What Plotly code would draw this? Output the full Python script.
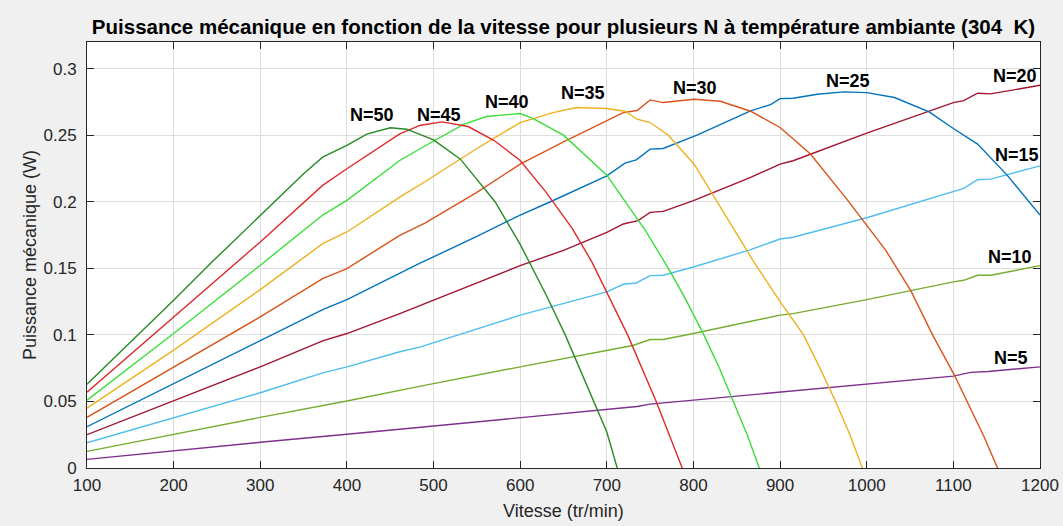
import plotly.graph_objects as go

# ---- Data (speed in tr/min, mechanical power in W) ----
v_N50 = [100, 200, 246, 300, 350, 372, 400, 423, 450, 469, 485, 500, 531, 571, 600, 614, 630, 652, 668, 685, 700, 712]
p_N50 = [0.063, 0.126, 0.1558, 0.19, 0.221, 0.2335, 0.2423, 0.2508, 0.2556, 0.2545, 0.2505, 0.2465, 0.232, 0.2, 0.168, 0.15, 0.13, 0.1, 0.076, 0.05, 0.027, 0.0]

v_N45 = [100, 200, 300, 372, 400, 461, 485, 510, 540, 570, 600, 630, 660, 683, 700, 724, 757, 787]
p_N45 = [0.057, 0.1135, 0.1698, 0.2123, 0.2248, 0.251, 0.2575, 0.26, 0.2565, 0.246, 0.231, 0.207, 0.18, 0.1545, 0.132, 0.1, 0.05, 0.0]

v_N40 = [100, 200, 300, 372, 400, 461, 485, 534, 561, 600, 615, 650, 700, 721, 745, 771, 790, 812, 830, 846, 862, 876]
p_N40 = [0.051, 0.101, 0.1523, 0.19, 0.201, 0.231, 0.24, 0.258, 0.264, 0.2663, 0.2625, 0.25, 0.22, 0.2, 0.178, 0.15, 0.128, 0.1, 0.075, 0.05, 0.025, 0.0]

v_N35 = [100, 200, 300, 372, 400, 461, 490, 550, 600, 638, 665, 700, 721, 735, 750, 771, 801, 827, 850, 870, 900, 927, 946, 964, 980, 995]
p_N35 = [0.045, 0.0885, 0.134, 0.1685, 0.1773, 0.2035, 0.215, 0.24, 0.2595, 0.267, 0.2708, 0.27, 0.268, 0.262, 0.2595, 0.25, 0.228, 0.2, 0.176, 0.1545, 0.125, 0.1, 0.075, 0.05, 0.026, 0.0]

v_N30 = [100, 200, 300, 372, 400, 461, 490, 550, 600, 650, 700, 719, 735, 750, 765, 801, 831, 866, 900, 935, 977, 1000, 1022, 1051, 1076, 1101, 1116, 1135, 1151]
p_N30 = [0.038, 0.076, 0.1135, 0.1423, 0.1498, 0.1748, 0.184, 0.207, 0.2283, 0.245, 0.2608, 0.267, 0.2685, 0.2765, 0.2745, 0.277, 0.2755, 0.268, 0.2558, 0.2358, 0.202, 0.182, 0.1635, 0.133, 0.1, 0.07, 0.05, 0.024, 0.0]

v_N25 = [100, 200, 300, 372, 400, 461, 485, 550, 600, 635, 700, 721, 734, 750, 765, 804, 866, 889, 900, 915, 943, 974, 1000, 1032, 1072, 1100, 1112, 1128, 1162, 1187, 1200]
p_N25 = [0.031, 0.0635, 0.0955, 0.119, 0.1265, 0.146, 0.154, 0.174, 0.19, 0.2, 0.2195, 0.229, 0.2315, 0.2395, 0.24, 0.25, 0.2683, 0.273, 0.2775, 0.2778, 0.2808, 0.2825, 0.282, 0.2783, 0.2675, 0.255, 0.25, 0.2433, 0.22, 0.2, 0.19]

v_N20 = [100, 200, 300, 372, 400, 461, 485, 600, 650, 700, 719, 736, 750, 765, 800, 866, 900, 915, 1000, 1100, 1112, 1128, 1143, 1200]
p_N20 = [0.025, 0.0503, 0.076, 0.0955, 0.101, 0.116, 0.1223, 0.152, 0.1635, 0.177, 0.1833, 0.1858, 0.192, 0.1928, 0.2008, 0.2183, 0.2283, 0.2308, 0.2515, 0.2745, 0.276, 0.2815, 0.281, 0.2875]

v_N15 = [100, 200, 300, 372, 400, 461, 485, 600, 700, 719, 734, 750, 765, 800, 866, 900, 915, 1000, 1100, 1112, 1128, 1143, 1200]
p_N15 = [0.019, 0.038, 0.0565, 0.0715, 0.076, 0.0873, 0.091, 0.1148, 0.1323, 0.138, 0.139, 0.1445, 0.1448, 0.151, 0.164, 0.172, 0.1733, 0.188, 0.208, 0.21, 0.2165, 0.217, 0.227]

v_N10 = [100, 200, 300, 400, 461, 485, 600, 700, 730, 750, 765, 800, 866, 900, 915, 1000, 1100, 1112, 1128, 1143, 1200]
p_N10 = [0.0125, 0.0253, 0.038, 0.0503, 0.0585, 0.0615, 0.076, 0.0885, 0.092, 0.0965, 0.0965, 0.101, 0.1098, 0.1148, 0.116, 0.1265, 0.1398, 0.141, 0.1448, 0.1448, 0.152]

v_N5 = [100, 200, 300, 400, 461, 500, 600, 700, 735, 750, 800, 900, 1000, 1100, 1120, 1140, 1200]
p_N5 = [0.0065, 0.013, 0.0193, 0.0253, 0.029, 0.0315, 0.038, 0.044, 0.0462, 0.048, 0.051, 0.0575, 0.0635, 0.069, 0.0718, 0.0725, 0.076]

series_names = ["N=5", "N=10", "N=15", "N=20", "N=25", "N=30", "N=35", "N=40", "N=45", "N=50"]
series_v = [v_N5, v_N10, v_N15, v_N20, v_N25, v_N30, v_N35, v_N40, v_N45, v_N50]
series_p = [p_N5, p_N10, p_N15, p_N20, p_N25, p_N30, p_N35, p_N40, p_N45, p_N50]
series_colors = ["#7E2F8E", "#77AC30", "#4DBEEE", "#A2142F", "#0072BD",
                 "#D95319", "#EDB120", "#3BDD3B", "#DD2A2A", "#268A26"]

# label positions (data coordinates)
label_v = [1167, 1165, 1173, 1171, 978, 802, 672, 585, 506, 429]
label_p = [0.0829, 0.1585, 0.2354, 0.2948, 0.291, 0.2854, 0.2816, 0.2748, 0.2655, 0.265]

x_ticks = [100, 200, 300, 400, 500, 600, 700, 800, 900, 1000, 1100, 1200]
y_ticks = [0, 0.05, 0.1, 0.15, 0.2, 0.25, 0.3]

title_text = "Puissance mécanique en fonction de la vitesse pour plusieurs N à température ambiante (304\u00a0 K)"
x_title = "Vitesse (tr/min)"
y_title = "Puissance mécanique (W)"

FONT = "Liberation Sans, Arial, sans-serif"

fig = go.Figure()
for name, vv, pp, col in zip(series_names, series_v, series_p, series_colors):
    fig.add_trace(go.Scatter(x=vv, y=pp, mode="lines", name=name,
                             line=dict(color=col, width=1.4), showlegend=False))

for name, lv, lp in zip(series_names, label_v, label_p):
    fig.add_annotation(x=lv, y=lp, text="<b>" + name + "</b>", showarrow=False,
                       font=dict(family=FONT, size=18, color="#000000"),
                       xanchor="center", yanchor="middle")

# axis titles
fig.add_annotation(x=0.5, y=0, xref="paper", yref="paper", text=x_title, showarrow=False,
                   xanchor="center", yanchor="middle", yshift=-43,
                   font=dict(family=FONT, size=18, color="#262626"))
fig.add_annotation(x=0, y=0.5, xref="paper", yref="paper", text=y_title, showarrow=False,
                   xanchor="center", yanchor="middle", xshift=-57, textangle=-90,
                   font=dict(family=FONT, size=18, color="#262626"))

axis_common = dict(
    showgrid=True, gridcolor="#dedede", gridwidth=1,
    showline=True, linecolor="#262626", linewidth=1, mirror="ticks",
    ticks="inside", ticklen=7, tickcolor="#262626", tickwidth=1,
    zeroline=False, automargin=False,
    tickfont=dict(family=FONT, size=17, color="#262626"),
)

fig.update_layout(
    width=1063, height=526,
    paper_bgcolor="#f0f0f0", plot_bgcolor="#ffffff",
    margin=dict(l=87, r=23, t=42, b=58, autoexpand=False),
    title=dict(text="<b>" + title_text + "</b>", x=0.5, xref="paper", xanchor="center",
               y=0.949, yanchor="middle",
               font=dict(family=FONT, size=20.5, color="#000000")),
    xaxis=dict(range=[100, 1200], tickvals=x_ticks, ticklabelstandoff=2, **axis_common),
    yaxis=dict(range=[0, 0.32], tickvals=y_ticks, ticklabelstandoff=6, **axis_common),
)

fig.write_html(
    "out.html",
    config={"displayModeBar": False},
    post_script="document.body.style.margin='0';document.body.style.background='#f0f0f0';document.body.style.overflow='hidden';",
)
